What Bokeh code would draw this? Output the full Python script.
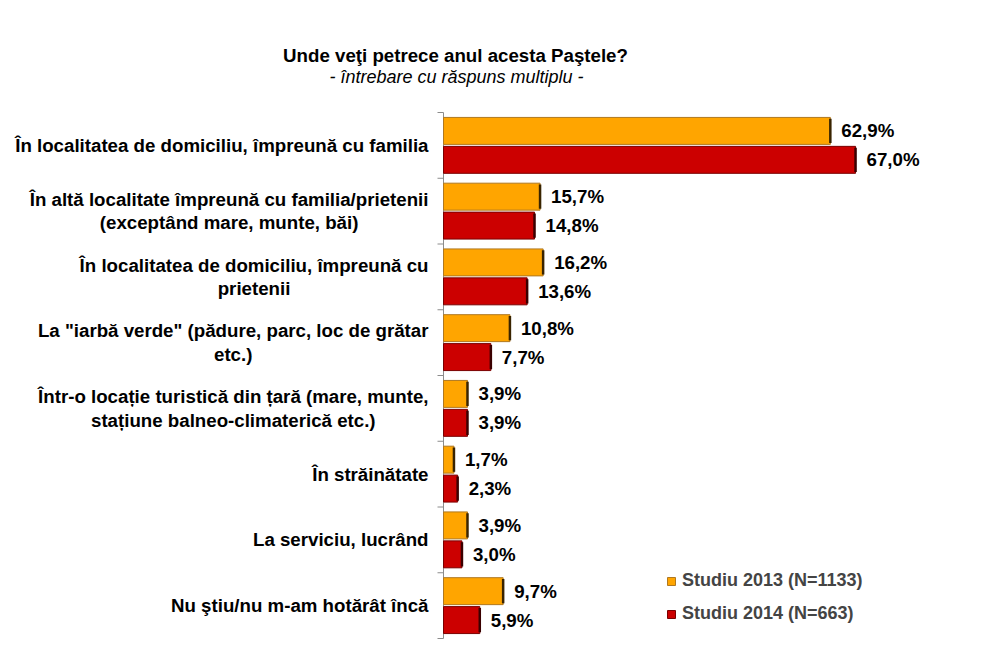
from bokeh.plotting import figure
from bokeh.models import Range1d, Legend, LegendItem, ColumnDataSource
from bokeh.core.properties import value
from bokeh.embed import file_html
from bokeh.resources import INLINE

categories = [
    "În localitatea de domiciliu, împreună cu familia",
    "În altă localitate împreună cu familia/prietenii\n(exceptând mare, munte, băi)",
    "În localitatea de domiciliu, împreună cu\nprietenii",
    "La \"iarbă verde\" (pădure, parc, loc de grătar\netc.)",
    "Într-o locație turistică din țară (mare, munte,\nstațiune balneo-climaterică etc.)",
    "În străinătate",
    "La serviciu, lucrând",
    "Nu ştiu/nu m-am hotărât încă",
]
studiu_2013 = [62.9, 15.7, 16.2, 10.8, 3.9, 1.7, 3.9, 9.7]
studiu_2014 = [67.0, 14.8, 13.6, 7.7, 3.9, 2.3, 3.0, 5.9]
series_names = ["Studiu 2013 (N=1133)", "Studiu 2014 (N=663)"]
title_text = "Unde veţi petrece anul acesta Paştele?"
subtitle_text = "- întrebare cu răspuns multiplu -"

FONT = "Liberation Sans"
n = len(categories)

W, H = 1000, 648
PX_X = 6.15      # pixels per percent
X0 = 443         # pixel position of 0 %
BAND = 65.75     # pixels per category band
Y0 = 112         # pixel position of top of first band

p = figure(width=W, height=H, output_backend="svg", toolbar_location=None,
           x_range=Range1d(-X0 / PX_X, (W - X0) / PX_X),
           y_range=Range1d((H - Y0) / BAND, -Y0 / BAND),
           x_axis_location=None, y_axis_location=None,
           min_border=0)
p.outline_line_color = None
p.xgrid.visible = False
p.ygrid.visible = False
p.background_fill_color = "white"
p.border_fill_color = "white"

# category axis line and tick marks
bounds = list(range(n + 1))
p.segment(x0=[0], x1=[0], y0=[0], y1=[n], line_color="#8c8c8c", line_width=1)
p.segment(x0=[0] * len(bounds), x1=[-6 / PX_X] * len(bounds), y0=bounds, y1=bounds,
          line_color="#8c8c8c", line_width=1)

off = 0.22
h = 0.41
y13 = [i + 0.5 - off for i in range(n)]
y14 = [i + 0.5 + off for i in range(n)]
fmt = lambda v: f"{v:.1f}%".replace(".", ",")
src13 = ColumnDataSource(dict(y=y13, v=studiu_2013, lab=[fmt(v) for v in studiu_2013],
                              y0=[y - h / 2 + 0.02 for y in y13], y1=[y + h / 2 - 0.02 for y in y13]))
src14 = ColumnDataSource(dict(y=y14, v=studiu_2014, lab=[fmt(v) for v in studiu_2014],
                              y0=[y - h / 2 + 0.02 for y in y14], y1=[y + h / 2 - 0.02 for y in y14]))

r13 = p.hbar(y="y", right="v", left=0, height=h, source=src13,
             fill_color="#FFA500", line_color="#B07820", line_width=1)
r14 = p.hbar(y="y", right="v", left=0, height=h, source=src14,
             fill_color="#CC0000", line_color="#7A0000", line_width=1)
p.segment(x0="v", x1="v", y0="y0", y1="y1", source=src13, line_color="#3a2400", line_width=2.5)
p.segment(x0="v", x1="v", y0="y0", y1="y1", source=src14, line_color="#3a0000", line_width=2.5)

for src in (src13, src14):
    p.text(x="v", y="y", text="lab", source=src, x_offset=11, text_baseline="middle",
           text_font=value(FONT), text_font_style="bold", text_font_size="18.7px", text_color="black")

cat_src = ColumnDataSource(dict(x=[0] * n, y=[i + 0.5 for i in range(n)], t=categories))
p.text(x="x", y="y", text="t", source=cat_src, x_offset=-15, text_align="center",
       anchor="center_right", text_baseline="middle",
       text_font=value(FONT), text_font_style="bold", text_font_size="18.7px",
       text_line_height=1.13, text_color="black")

p.text(x=[(455 - X0) / PX_X], y=[-(Y0 - 55) / BAND], text=[title_text], text_align="center",
       text_baseline="middle", text_font=value(FONT), text_font_style="bold",
       text_font_size="18.7px", text_color="black")
p.text(x=[(456 - X0) / PX_X], y=[-(Y0 - 76) / BAND], text=[subtitle_text], text_align="center",
       text_baseline="middle", text_font=value(FONT), text_font_style="italic",
       text_font_size="18px", text_color="black")

legend = Legend(items=[LegendItem(label=series_names[0], renderers=[r13]),
                       LegendItem(label=series_names[1], renderers=[r14])],
                location=(666, 24), orientation="vertical",
                glyph_width=10, glyph_height=10, label_height=20, spacing=12,
                label_standoff=6, padding=0, margin=0,
                border_line_color=None, background_fill_alpha=0,
                label_text_font=FONT, label_text_font_style="bold", label_text_font_size="18px")
p.add_layout(legend)

open("out.html", "w").write(file_html(p, INLINE))
